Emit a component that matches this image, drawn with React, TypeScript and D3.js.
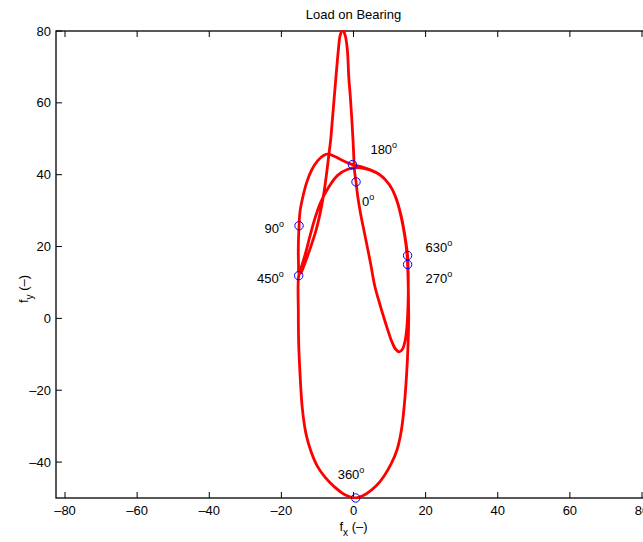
import React from 'react';
import * as d3 from 'd3';

// crank-angle segments of the load polar, [fx, fy]
const load0to90: [number, number][] = [
  [0.7, 38], [0.3, 41], [-0.1, 49], [-0.5, 56], [-0.9, 62], [-1.3, 67], [-1.7, 74.7],
  [-2.3, 78.8], [-3, 80.3], [-3.7, 78.8], [-4.2, 74.7], [-4.8, 68], [-5.3, 62],
  [-5.8, 56], [-6.3, 50], [-6.9, 45], [-7.5, 40], [-8.2, 35], [-9.1, 30],
  [-10.4, 24.5], [-12, 19.5], [-13.5, 15.3], [-14.6, 12.7], [-15.1, 12.5],
  [-15.25, 15], [-15.3, 20], [-15.1, 25.8],
];
const load90to180: [number, number][] = [
  [-15.1, 25.8], [-14.8, 30], [-14, 34], [-13, 37.8], [-11.6, 41.3], [-9.9, 43.9],
  [-8.2, 45.4], [-7, 45.8], [-5.5, 45.2], [-3.5, 44.2], [-1.8, 43.4], [-0.3, 42.8],
];
const load180to270: [number, number][] = [
  [-0.3, 42.8], [1.8, 42.3], [4.5, 41.4], [7, 40.2], [9, 38.4], [10.7, 36], [12.1, 32.5],
  [13.3, 27.8], [14.3, 22.3], [14.8, 18.2], [15, 15],
];
const load270to360: [number, number][] = [
  [15, 15], [15.2, 8], [15.3, 0], [15.1, -8], [14.7, -16], [14.1, -24], [13.3, -31],
  [12.1, -36.5], [10.4, -40.6], [8.4, -44], [6.3, -46.6], [3.6, -48.8], [0.6, -50],
];
const load360to450: [number, number][] = [
  [0.6, -50], [-2.4, -49.1], [-5.4, -46.8], [-7.9, -44.2], [-10, -41.2], [-11.8, -37],
  [-13.2, -32], [-14.2, -25], [-14.8, -16], [-15.2, -7], [-15.3, 2], [-15.2, 11.9],
];
const load450to630: [number, number][] = [
  [-15.2, 11.9], [-14.3, 14.8], [-13.2, 18.5], [-12.1, 22.8], [-10.8, 27.5], [-9.1, 32.3],
  [-6.9, 36.5], [-4.4, 39.8], [-1.6, 41.5], [1.5, 42], [4.5, 41.3], [7.5, 39.8],
  [9.9, 37.3], [11.7, 33.8], [13.1, 29], [14.1, 24], [14.7, 20], [15, 17.5],
];
const load630to720: [number, number][] = [
  [15, 17.5], [15.2, 10], [15.1, 3], [14.8, -2.5], [14.3, -6.3], [13.6, -8.5], [12.7, -9.3],
  [11.7, -8.6], [10.6, -6.4], [9.5, -3.2], [8.3, 0.6], [7, 5], [5.9, 9], [4.7, 15.5],
  [3.3, 22.5], [1.9, 29.5], [1.1, 34.5], [0.7, 38],
];

const markerAngle = [0, 90, 180, 270, 360, 450, 630];
const markerFx = [0.7, -15.1, -0.3, 15, 0.6, -15.2, 15];
const markerFy = [38, 25.8, 42.8, 15, -50, 11.9, 17.5];

const xTicks = [-80, -60, -40, -20, 0, 20, 40, 60, 80];
const yTicks = [-40, -20, 0, 20, 40, 60, 80];

// label placement around each marker, in pixels
const labelPos: Record<number, { dx: number; dy: number; anchor: string }> = {
  0: { dx: 6, dy: 24, anchor: 'start' },
  90: { dx: -15, dy: 7, anchor: 'end' },
  180: { dx: 18, dy: -11, anchor: 'start' },
  270: { dx: 18, dy: 18, anchor: 'start' },
  360: { dx: -18, dy: -19, anchor: 'start' },
  450: { dx: -15, dy: 7, anchor: 'end' },
  630: { dx: 18, dy: -4, anchor: 'start' },
};

const W = 643;
const H = 542;
const left = 56, right = 651, top = 31, bottom = 498;
const font = '"Liberation Sans", Arial, Helvetica, sans-serif';

export default function App() {
  const x = d3.scaleLinear().domain([-82.5, 82.5]).range([left, right]);
  const y = d3.scaleLinear().domain([-50, 80]).range([bottom, top]);

  const segs = [load0to90, load90to180, load180to270, load270to360, load360to450, load450to630, load630to720];
  const pts: [number, number][] = [];
  segs.forEach((s, i) => s.forEach((p, j) => { if (i === 0 || j > 0) pts.push(p); }));

  const line = d3.line<[number, number]>()
    .x(d => x(d[0]))
    .y(d => y(d[1]))
    .curve(d3.curveCatmullRom.alpha(0.5));

  const fmt = (v: number) => (v < 0 ? '\u2013' + Math.abs(v) : String(v));
  const tick = 6;

  return (
    <svg width={W} height={H} style={{ position: 'absolute', left: 0, top: 0, background: '#fff' }}
      fontFamily={font}>
      <defs>
        <clipPath id="plotclip">
          <rect x={left} y={top - 1} width={right - left} height={bottom - top + 2} />
        </clipPath>
      </defs>
      <rect x={0} y={0} width={W} height={H} fill="#fff" />

      <text x={x(0)} y={19} textAnchor="middle" fontSize={13}>Load on Bearing</text>

      {/* axes box */}
      <rect x={left} y={top} width={right - left} height={bottom - top} fill="none" stroke="#000" strokeWidth={1.3} />
      {xTicks.map(t => (
        <g key={'x' + t}>
          <line x1={x(t)} x2={x(t)} y1={bottom} y2={bottom - tick} stroke="#000" />
          <line x1={x(t)} x2={x(t)} y1={top} y2={top + tick} stroke="#000" />
          <text x={x(t)} y={515} textAnchor="middle" fontSize={13}>{fmt(t)}</text>
        </g>
      ))}
      {yTicks.map(t => (
        <g key={'y' + t}>
          <line x1={left} x2={left + tick} y1={y(t)} y2={y(t)} stroke="#000" />
          <line x1={right} x2={right - tick} y1={y(t)} y2={y(t)} stroke="#000" />
          <text x={left - 5} y={y(t) + 4.5} textAnchor="end" fontSize={13}>{fmt(t)}</text>
        </g>
      ))}

      <text x={x(0)} y={531} textAnchor="middle" fontSize={13}>
        f<tspan fontSize={10} dy={5}>x</tspan><tspan dy={-5}> (–)</tspan>
      </text>
      <text transform="translate(28, 289) rotate(-90)" textAnchor="middle" fontSize={13}>
        f<tspan fontSize={10} dy={5}>y</tspan><tspan dy={-5}> (–)</tspan>
      </text>

      <g clipPath="url(#plotclip)">
        <path d={line(pts) ?? ''} fill="none" stroke="#ff0000" strokeWidth={2.8} strokeLinejoin="round" />
      </g>

      {markerAngle.map((a, i) => {
        const px = x(markerFx[i]);
        const py = y(markerFy[i]);
        const lp = labelPos[a];
        return (
          <g key={'m' + a}>
            <circle cx={px} cy={py} r={4.2} fill="none" stroke="#0000ff" strokeWidth={1} />
            <text x={px + lp.dx} y={py + lp.dy} textAnchor={lp.anchor} fontSize={13}>
              {a}<tspan fontSize={9} dy={-6}>o</tspan>
            </text>
          </g>
        );
      })}
    </svg>
  );
}
